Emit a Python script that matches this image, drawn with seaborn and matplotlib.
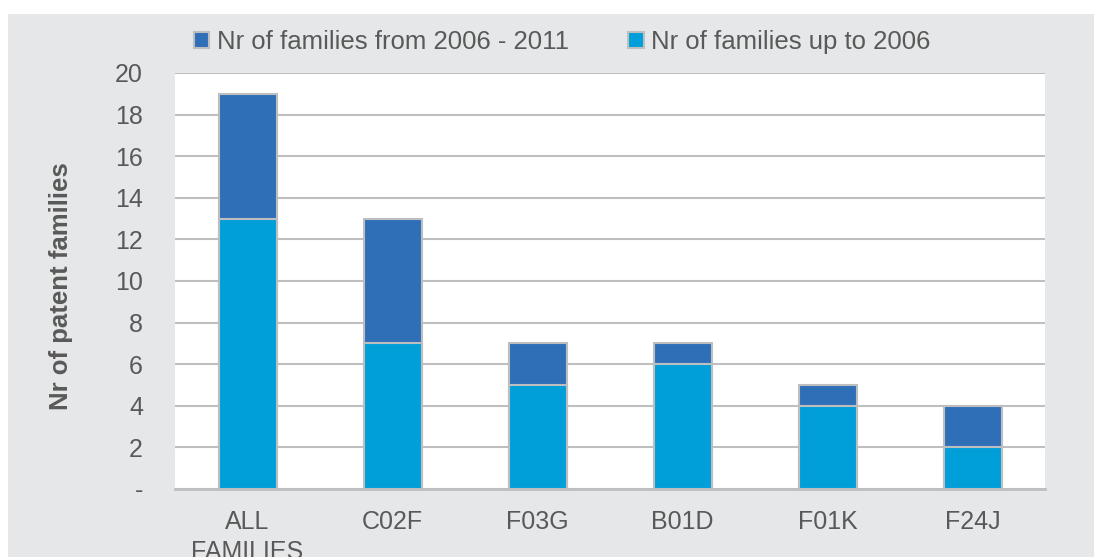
import pandas as pd
import matplotlib.pyplot as plt
import seaborn as sns
from matplotlib.patches import Rectangle, Patch

# Data
categories = ['ALL\nFAMILIES', 'C02F', 'F03G', 'B01D', 'F01K', 'F24J']
up_to_2006 = [13, 7, 5, 6, 4, 2]
from_2006_2011 = [6, 6, 2, 1, 1, 2]
y_ticks = [0, 2, 4, 6, 8, 10, 12, 14, 16, 18, 20]
y_tick_labels = ['-', '2', '4', '6', '8', '10', '12', '14', '16', '18', '20']

df = pd.DataFrame({
    'category': categories,
    'up_to_2006': up_to_2006,
    'from_2006_2011': from_2006_2011,
})
df['total'] = df['up_to_2006'] + df['from_2006_2011']

dark_blue = '#2F6FB7'
light_blue = '#009FD9'
edge_grey = '#BCBEC0'
text_grey = '#595959'
bg_grey = '#E6E7E8'

sns.set_style("white")
plt.rcParams['font.family'] = ['Liberation Sans', 'DejaVu Sans']

fig = plt.figure(figsize=(10.94, 5.57), dpi=100, facecolor='white')
# grey chart-area background
fig.patches.append(Rectangle((8 / 1094, -0.01), 1, 1.01 - 14 / 557,
                             transform=fig.transFigure, facecolor=bg_grey,
                             edgecolor='none', zorder=-10))

ax = fig.add_axes([175 / 1094, 1 - 489 / 557, 870 / 1094, 416 / 557])
ax.set_facecolor('white')

sns.barplot(data=df, x='category', y='total', color=dark_blue, saturation=1,
            width=0.4, edgecolor=edge_grey, linewidth=1.5, ax=ax, zorder=3)
sns.barplot(data=df, x='category', y='up_to_2006', color=light_blue, saturation=1,
            width=0.4, edgecolor=edge_grey, linewidth=1.5, ax=ax, zorder=3)

ax.set_xlim(-0.5, len(categories) - 0.5)
ax.set_ylim(0, 20)
ax.set_yticks(y_ticks)
ax.set_yticklabels(y_tick_labels)
ax.yaxis.grid(True, color='#BFBFBF', linewidth=1.5)
ax.set_axisbelow(True)

for side in ['top', 'right', 'left']:
    ax.spines[side].set_visible(False)
ax.spines['bottom'].set_color('#BFBFBF')
ax.spines['bottom'].set_linewidth(2)

ax.tick_params(axis='y', length=0, pad=23, labelsize=18, labelcolor=text_grey)
ax.tick_params(axis='x', which='major', length=0, pad=15, labelsize=18,
               labelcolor=text_grey)
ax.set_xticks([i - 0.5 for i in range(len(categories) + 1)], minor=True)
ax.tick_params(axis='x', which='minor', length=6, width=1.5, color='#BFBFBF',
               direction='out')
# second line of the first label runs off the bottom edge, as in the original
for lbl in ax.get_xticklabels():
    lbl.set_linespacing(1.3)

ax.set_xlabel('')
ax.set_ylabel('Nr of patent families', fontsize=18.5, fontweight='bold',
              color=text_grey)
ax.yaxis.set_label_coords(-0.117, 0.487)

handles = [Patch(facecolor=dark_blue, edgecolor=edge_grey, linewidth=1.5),
           Patch(facecolor=light_blue, edgecolor=edge_grey, linewidth=1.5)]
labels = ['Nr of families from 2006 - 2011', 'Nr of families up to 2006']
fig.legend(handles, labels, loc='center', bbox_to_anchor=(0.514, 1 - 42 / 557),
           ncol=2, frameon=False, fontsize=18.5, labelcolor=text_grey,
           handlelength=0.6, handleheight=0.6, handletextpad=0.3,
           columnspacing=2.3)

plt.savefig('out.png', dpi=100, facecolor='white')
